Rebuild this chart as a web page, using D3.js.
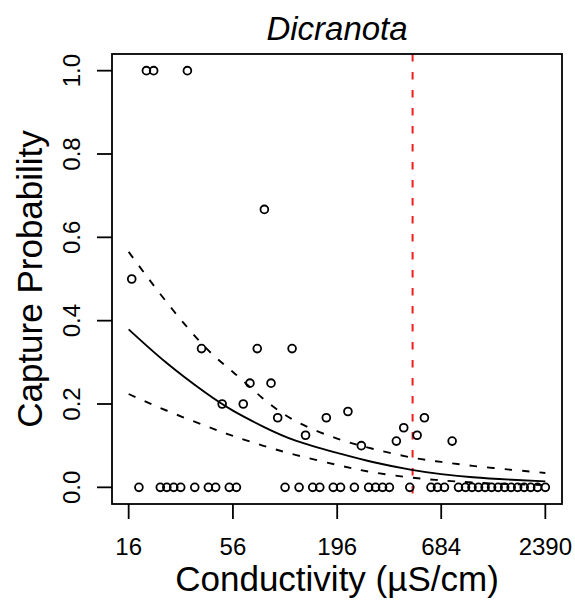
<html>
    <head>
        <title>Dicranota</title>
        <script type="text/javascript" src="https://cdn.jsdelivr.net/npm/d3@7"></script>
        <style>
            body{ margin:0; background:white; }
            text{ font-family:"Liberation Sans", Arial, Helvetica, sans-serif; fill:black; }
            .frame{ fill:none; stroke:black; stroke-width:1.8; }
            .tick{ stroke:black; stroke-width:1.8; }
            .ticklabel{ font-size:24px; }
            .axislabel{ font-size:35px; }
            .pt{ fill:none; stroke:black; stroke-width:1.8; }
            .fit{ fill:none; stroke:black; stroke-width:1.9; }
            .ci{ fill:none; stroke:black; stroke-width:1.9; stroke-dasharray:7.5,10; }
            .thresh{ stroke:#f21d1d; stroke-width:2; stroke-dasharray:7.5,10.5; }
        </style>
    </head>
    <body>
        <script type="text/javascript">
            // observed capture proportions (conductivity in uS/cm)
            let obsCond = [19.8, 21.6, 32.4, 16.6, 81.7, 38.4, 75, 114, 68.7, 88.5, 49.2, 63.4,
                           95.9, 172, 559, 134, 512, 223, 262, 399, 780, 436]
            let obsProb = [1, 1, 1, 0.5, 0.667, 0.333, 0.333, 0.333, 0.25, 0.25, 0.2, 0.2,
                           0.167, 0.167, 0.167, 0.125, 0.125, 0.182, 0.1, 0.111, 0.111, 0.143]
            let zeroCond = [18.1, 23.4, 25.3, 27.5, 29.9, 35.4, 41.7, 45.5, 53.6, 58.4, 104.8, 124,
                            146, 159, 187, 204, 241, 286, 311, 338, 367, 469, 605, 654, 711,
                            842, 916, 990, 1071, 1159, 1253, 1355, 1466, 1585, 1714, 1854, 2005, 2177, 2390]

            // fitted curve and confidence band
            let fitCond   = [16, 25, 40, 56, 80, 120, 196, 300, 480, 684, 1000, 1600, 2390]
            let fitProb   = [0.379, 0.300, 0.228, 0.184, 0.1465, 0.1115, 0.0827, 0.0608, 0.042, 0.0317, 0.0241, 0.0182, 0.0142]
            let upperProb = [0.565, 0.447, 0.337, 0.277, 0.214, 0.158, 0.117, 0.0925, 0.0715, 0.061, 0.0515, 0.042, 0.0345]
            let lowerProb = [0.224, 0.185, 0.148, 0.1234, 0.1003, 0.0774, 0.0538, 0.0362, 0.0233, 0.0168, 0.0115, 0.0076, 0.0056]

            let threshold = 485
            let xTicks = [16, 56, 196, 684, 2390]
            let yTicks = [0, 0.2, 0.4, 0.6, 0.8, 1.0]
            let title = "Dicranota"
            let xTitle = "Conductivity (\u00b5S/cm)"
            let yTitle = "Capture Probability"

            let w = 575
            let h = 603
            let pLeft = 112, pRight = 562, pTop = 54, pBottom = 504

            let svg = d3.select("body")
                        .append("svg")
                        .attr("width", w)
                        .attr("height", h)

            // R style 4% padding on both axes
            let lmin = Math.log(16), lmax = Math.log(2390)
            let pad = (lmax - lmin) * 0.04
            let x = d3.scaleLog()
                        .domain([Math.exp(lmin - pad), Math.exp(lmax + pad)])
                        .range([pLeft, pRight])
            let y = d3.scaleLinear()
                        .domain([-0.04, 1.04])
                        .range([pBottom, pTop])

            // threshold line
            svg.append("line")
                .attr("x1", x(threshold)).attr("x2", x(threshold))
                .attr("y1", pTop).attr("y2", pBottom)
                .attr("class", "thresh")

            // points
            let pts = obsCond.map((c, i) => ({c: c, p: obsProb[i]}))
                        .concat(zeroCond.map(c => ({c: c, p: 0})))
            svg.selectAll("circle.pt")
                .data(pts)
                .enter()
                .append("circle")
                .attr("class", "pt")
                .attr("cx", d => x(d.c))
                .attr("cy", d => y(d.p))
                .attr("r", 3.9)

            // fit lines
            let line = d3.line()
                        .x(d => x(d[0]))
                        .y(d => y(d[1]))
                        .curve(d3.curveNatural)
            svg.append("path")
                .datum(fitCond.map((c, i) => [c, fitProb[i]]))
                .attr("d", line)
                .attr("class", "fit")
            svg.append("path")
                .datum(fitCond.map((c, i) => [c, upperProb[i]]))
                .attr("d", line)
                .attr("class", "ci")
            svg.append("path")
                .datum(fitCond.map((c, i) => [c, lowerProb[i]]))
                .attr("d", line)
                .attr("class", "ci")

            // frame
            svg.append("rect")
                .attr("x", pLeft).attr("y", pTop)
                .attr("width", pRight - pLeft).attr("height", pBottom - pTop)
                .attr("class", "frame")

            // x axis
            for (let t of xTicks){
                svg.append("line")
                    .attr("x1", x(t)).attr("x2", x(t))
                    .attr("y1", pBottom).attr("y2", pBottom + 15)
                    .attr("class", "tick")
                svg.append("text")
                    .attr("x", x(t)).attr("y", 555)
                    .attr("text-anchor", "middle")
                    .attr("class", "ticklabel")
                    .text(t)
            }

            // y axis
            for (let t of yTicks){
                svg.append("line")
                    .attr("x1", pLeft - 15).attr("x2", pLeft)
                    .attr("y1", y(t)).attr("y2", y(t))
                    .attr("class", "tick")
                svg.append("text")
                    .attr("transform", "translate(80," + y(t) + ") rotate(-90)")
                    .attr("text-anchor", "middle")
                    .attr("class", "ticklabel")
                    .text(t.toFixed(1))
            }

            // titles
            svg.append("text")
                .attr("x", (pLeft + pRight) / 2).attr("y", 40)
                .attr("text-anchor", "middle")
                .attr("class", "axislabel")
                .style("font-style", "italic")
                .style("font-size", "33px")
                .text(title)
            svg.append("text")
                .attr("x", (pLeft + pRight) / 2).attr("y", 591)
                .attr("text-anchor", "middle")
                .attr("class", "axislabel")
                .text(xTitle)
            svg.append("text")
                .attr("transform", "translate(42," + (pTop + pBottom) / 2 + ") rotate(-90)")
                .attr("text-anchor", "middle")
                .attr("class", "axislabel")
                .text(yTitle)
        </script>
    </body>
</html>
